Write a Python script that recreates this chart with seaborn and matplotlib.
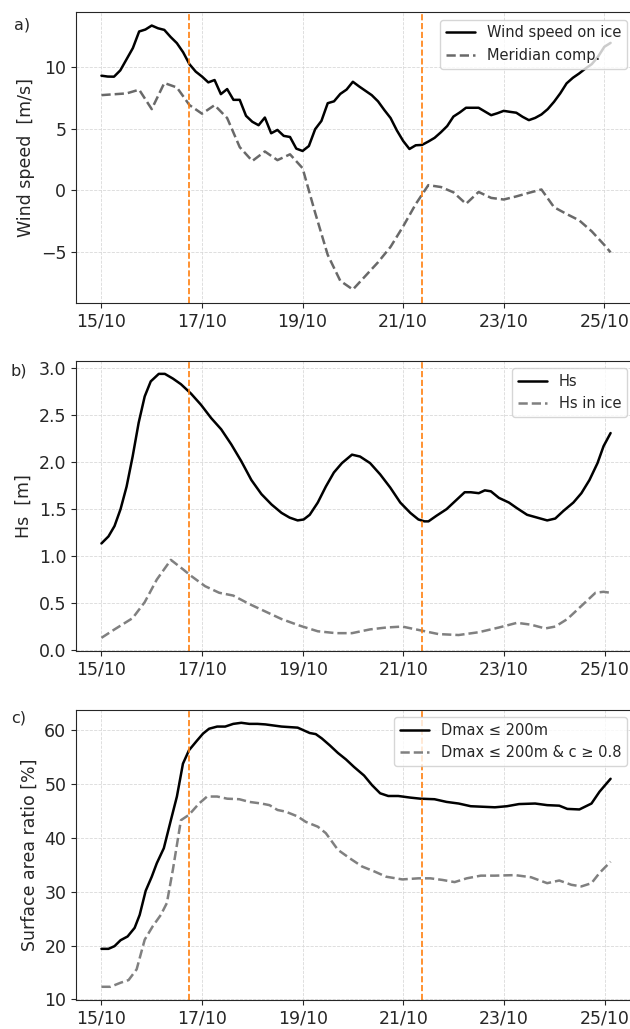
import numpy as np
import pandas as pd
import seaborn as sns
import matplotlib
matplotlib.use("Agg")
import matplotlib.pyplot as plt
import matplotlib.dates as mdates

# ---- data (days after 15/10 00:00) ----
wind_hours = np.arange(0, 244, 3)
wind_speed = [9.27, 9.2, 9.19, 9.7, 10.6, 11.5, 12.84, 13.0, 13.32, 13.1, 12.97, 12.4,
              11.9, 11.16, 10.2, 9.6, 9.2, 8.73, 8.92, 7.78, 8.19, 7.32, 7.32, 6.03,
              5.55, 5.27, 5.89, 4.62, 4.89, 4.41, 4.32, 3.38, 3.19, 3.59, 4.95, 5.62,
              7.05, 7.2, 7.8, 8.15, 8.78, 8.4, 8.05, 7.7, 7.2, 6.5, 5.85, 4.85,
              4.0, 3.35, 3.65, 3.68, 3.95, 4.25, 4.7, 5.2, 5.97, 6.3, 6.68, 6.68,
              6.68, 6.38, 6.08, 6.24, 6.43, 6.35, 6.28, 5.95, 5.68, 5.86, 6.14, 6.57,
              7.16, 7.85, 8.65, 9.1, 9.45, 9.85, 10.2, 10.8, 11.6, 11.92]

merid_hours = list(range(0, 241, 6)) + [243]
merid_comp = [7.7, 7.77, 7.84, 8.14, 6.57, 8.68, 8.32, 6.9, 6.2, 6.89, 5.85, 3.5,
              2.38, 3.15, 2.45, 2.92, 1.8, -1.8, -5.2, -7.3, -8.0, -6.9, -5.8, -4.55,
              -2.9, -1.1, 0.43, 0.28, -0.15, -1.08, -0.12, -0.6, -0.73, -0.48, -0.19, 0.08,
              -1.35, -1.9, -2.41, -3.3, -4.4, -5.0]

hs_days = [0, 0.14, 0.26, 0.38, 0.5, 0.62, 0.74, 0.86, 0.98, 1.14, 1.26, 1.42, 1.58,
           1.78, 1.98, 2.18, 2.38, 2.58, 2.78, 2.98, 3.18, 3.38, 3.58, 3.74, 3.9, 4.02,
           4.14, 4.3, 4.46, 4.62, 4.78, 4.98, 5.14, 5.34, 5.54, 5.74, 5.94, 6.14, 6.3,
           6.42, 6.5, 6.66, 6.86, 7.06, 7.22, 7.34, 7.5, 7.62, 7.74, 7.9, 8.1, 8.26,
           8.46, 8.66, 8.86, 9.02, 9.18, 9.38, 9.54, 9.7, 9.86, 9.98, 10.12]
hs = [1.135, 1.21, 1.32, 1.5, 1.74, 2.06, 2.42, 2.7, 2.86, 2.94, 2.94, 2.89, 2.83,
      2.73, 2.61, 2.47, 2.35, 2.19, 2.01, 1.81, 1.66, 1.55, 1.46, 1.41, 1.38, 1.39,
      1.44, 1.57, 1.74, 1.89, 1.99, 2.08, 2.06, 1.99, 1.87, 1.73, 1.57, 1.46, 1.39,
      1.37, 1.37, 1.43, 1.5, 1.6, 1.68, 1.68, 1.67, 1.7, 1.69, 1.62, 1.57, 1.51,
      1.44, 1.41, 1.38, 1.4, 1.48, 1.57, 1.67, 1.81, 1.99, 2.17, 2.31]

hs_ice_days = [0, 0.26, 0.62, 0.86, 1.1, 1.38, 1.62, 1.78, 2.06, 2.34, 2.62, 2.94, 3.26,
               3.58, 3.94, 4.3, 4.66, 4.98, 5.34, 5.66, 5.98, 6.34, 6.7, 7.1, 7.5, 7.9,
               8.26, 8.54, 8.82, 9.02, 9.26, 9.54, 9.82, 9.98, 10.12]
hs_ice = [0.13, 0.22, 0.34, 0.51, 0.75, 0.96, 0.86, 0.79, 0.68, 0.61, 0.58, 0.49, 0.41,
          0.33, 0.26, 0.2, 0.18, 0.18, 0.22, 0.24, 0.25, 0.21, 0.17, 0.16, 0.19, 0.24,
          0.29, 0.27, 0.23, 0.25, 0.33, 0.47, 0.61, 0.62, 0.61]

sa_days = [0, 0.14, 0.26, 0.38, 0.52, 0.66, 0.76, 0.88, 1.0, 1.1, 1.24, 1.38, 1.5,
           1.62, 1.74, 1.9, 2.02, 2.14, 2.3, 2.46, 2.62, 2.78, 2.94, 3.1, 3.26, 3.42,
           3.58, 3.74, 3.9, 4.02, 4.14, 4.26, 4.38, 4.54, 4.7, 4.86, 5.02, 5.22, 5.38,
           5.54, 5.7, 5.9, 6.14, 6.34, 6.62, 6.86, 7.1, 7.34, 7.58, 7.82, 8.06, 8.3,
           8.62, 8.86, 9.1, 9.26, 9.5, 9.74, 9.9, 10.12]
sa_dmax = [19.4, 19.4, 19.9, 21.0, 21.7, 23.3, 25.7, 30.2, 32.8, 35.3, 38.1, 43.3, 47.7,
           53.8, 56.3, 58.1, 59.4, 60.3, 60.7, 60.7, 61.2, 61.4, 61.2, 61.2, 61.1, 60.9,
           60.7, 60.6, 60.5, 60.0, 59.5, 59.3, 58.5, 57.2, 55.8, 54.6, 53.2, 51.6, 49.8,
           48.3, 47.8, 47.8, 47.5, 47.3, 47.2, 46.7, 46.4, 45.9, 45.8, 45.7, 45.9, 46.3,
           46.4, 46.1, 46.0, 45.4, 45.3, 46.4, 48.6, 51.0]

sa_c_days = [0, 0.18, 0.38, 0.54, 0.7, 0.86, 1.02, 1.18, 1.3, 1.42, 1.58, 1.74, 1.94,
             2.1, 2.3, 2.5, 2.74, 2.94, 3.18, 3.34, 3.5, 3.66, 3.9, 4.06, 4.3, 4.46,
             4.7, 4.94, 5.18, 5.42, 5.66, 5.98, 6.3, 6.54, 6.78, 7.02, 7.26, 7.54, 7.82,
             8.22, 8.54, 8.86, 9.1, 9.34, 9.54, 9.74, 9.9, 10.12]
sa_dmax_c = [12.35, 12.35, 13.1, 13.6, 15.6, 21.1, 23.6, 25.7, 27.9, 34.1, 43.3, 44.3, 46.4,
             47.7, 47.7, 47.3, 47.2, 46.7, 46.4, 46.1, 45.2, 44.9, 44.0, 43.0, 42.1, 40.9,
             37.8, 36.2, 34.7, 33.8, 32.8, 32.3, 32.5, 32.5, 32.2, 31.8, 32.5, 33.0, 33.0,
             33.1, 32.7, 31.6, 32.1, 31.3, 31.0, 31.6, 33.5, 35.6]

event_days = [1.75, 6.375]

start = pd.Timestamp("2018-10-15")


def to_time(days, unit="D"):
    return start + pd.to_timedelta(np.asarray(days, dtype=float), unit=unit)


sns.set_style("ticks")
plt.rcParams["font.family"] = ["DejaVu Sans"]

fig = plt.figure(figsize=(6.3, 10.29), dpi=100)
left, width, height = 0.1206, 0.889, 0.2822
bottoms = [0.7058, 0.3673, 0.0282]
axes = [fig.add_axes([left, b, width, height]) for b in bottoms]

panels = [
    [(to_time(wind_hours, "h"), wind_speed, "black", "-", "Wind speed on ice"),
     (to_time(merid_hours, "h"), merid_comp, "dimgray", "--", "Meridian comp.")],
    [(to_time(hs_days), hs, "black", "-", "Hs"),
     (to_time(hs_ice_days), hs_ice, "grey", "--", "Hs in ice")],
    [(to_time(sa_days), sa_dmax, "black", "-", "Dmax ≤ 200m"),
     (to_time(sa_c_days), sa_dmax_c, "grey", "--", "Dmax ≤ 200m & c ≥ 0.8")],
]
ylabels = ["Wind speed  [m/s]", "Hs  [m]", "Surface area ratio [%]"]

for ax, lines, ylab in zip(axes, panels, ylabels):
    for x, y, col, ls, lab in lines:
        sns.lineplot(x=x, y=y, ax=ax, color=col, linestyle=ls, lw=1.8, label=lab)
    for d in event_days:
        ax.axvline(to_time([d])[0], color="#ff7f0e", ls="--", lw=1.2)
    ax.grid(True, ls="--", lw=0.6, color="#d9d9d9")
    ax.set_axisbelow(True)
    ax.xaxis.set_major_locator(mdates.DayLocator(interval=2))
    ax.xaxis.set_major_formatter(mdates.DateFormatter("%d/%m"))
    ax.tick_params(labelsize=12.5)
    ax.set_ylabel(ylab, fontsize=12.5)
    ax.set_xlabel("")
    ax.legend(loc="upper right", bbox_to_anchor=(0.984, 0.975), borderaxespad=0,
              fontsize=10.5, framealpha=0.8, edgecolor="#cccccc")

for lab, (x, y) in zip(["a)", "b)", "c)"], [(0.022, 0.983), (0.016, 0.647), (0.017, 0.31)]):
    fig.text(x, y, lab, fontsize=11.5, va="top", ha="left")

fig.savefig("out.png", dpi=100)
